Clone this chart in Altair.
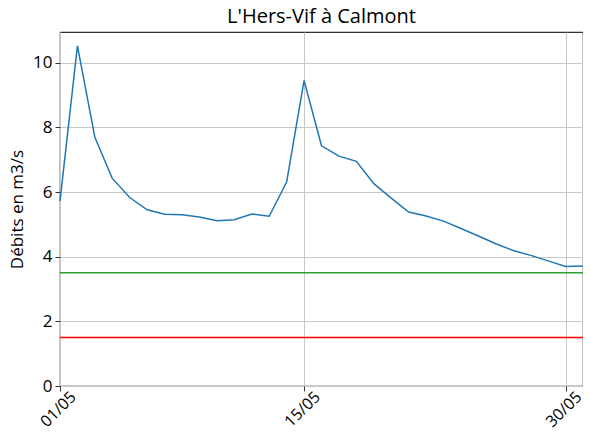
import altair as alt
import pandas as pd

days = list(range(1, 32))
debits = [5.72, 10.52, 7.69, 6.42, 5.83, 5.45, 5.31, 5.30, 5.23, 5.11, 5.14, 5.32, 5.25,
          6.31, 9.45, 7.43, 7.11, 6.95, 6.26, 5.81, 5.38, 5.26, 5.10, 4.87, 4.64, 4.40,
          4.19, 4.04, 3.87, 3.70, 3.71]
seuils = [3.5, 1.5]
seuil_colors = ["#2ca02c", "#ff0000"]
tick_days = [1, 15, 30]
tick_labels = ["01/05", "15/05", "30/05"]

df = pd.DataFrame({"jour": days, "debit": debits})
df_s = pd.DataFrame({"seuil": seuils, "color": seuil_colors})

label_expr = " : ".join(
    f"datum.value == {d} ? '{l}'" for d, l in zip(tick_days, tick_labels)
) + " : ''"

FONT = "Open Sans"
xscale = alt.Scale(domain=[1, 31], nice=False, zero=False)
yscale = alt.Scale(domain=[0, 10.95], nice=False)

line = alt.Chart(df).mark_line(color="#1f77b4", strokeWidth=1.5).encode(
    x=alt.X("jour:Q", scale=xscale, title=None,
            axis=alt.Axis(values=tick_days, labelExpr=label_expr, labelAngle=315,
                          labelAlign="center", labelBaseline="middle",
                          labelPadding=18, labelFontSize=16, labelOffset=-2, tickSize=5,
                          grid=True, gridColor="#c8c8c8", domain=False,
                          tickColor="#333333", labelColor="#000000",
                          labelFont=FONT, labelOverlap=False, labelBound=False)),
    y=alt.Y("debit:Q", scale=yscale, title="Débits en m3/s",
            axis=alt.Axis(values=[0, 2, 4, 6, 8, 10], labelFontSize=17,
                          labelFont=FONT, labelColor="#000000",
                          titleFont=FONT, titleFontSize=17,
                          titleFontWeight="normal", titleColor="#000000",
                          titlePadding=6, tickSize=5, tickColor="#333333",
                          labelPadding=3,
                          grid=True, gridColor="#c8c8c8", domain=False)),
)

rules = alt.Chart(df_s).mark_rule(strokeWidth=1.5).encode(
    y=alt.Y("seuil:Q", scale=yscale),
    color=alt.Color("color:N", scale=None),
)

chart = (line + rules).properties(
    width=523, height=354,
    title=alt.TitleParams("L'Hers-Vif à Calmont", font=FONT, fontSize=20,
                          fontWeight="normal", color="#000000", offset=5),
    autosize=alt.AutoSizeParams(type="none"),
    padding={"left": 52, "top": 24, "right": 0, "bottom": 47},
).configure_view(stroke="#333333", strokeWidth=1.2)

chart.save("out.html", embed_options={"renderer": "svg", "actions": False})
